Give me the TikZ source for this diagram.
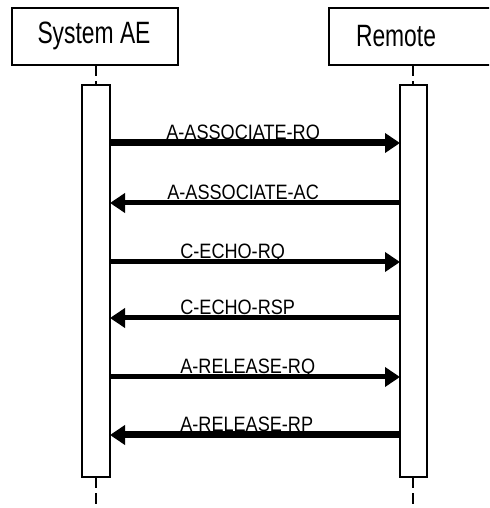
\documentclass[tikz,border=0pt]{standalone}
\usepackage{fontspec}
\setmainfont{Liberation Sans}
\usetikzlibrary{arrows.meta, calc, positioning}

\tikzset{
  lifebox/.style={draw, line width=1pt},
  lifeline/.style={line width=1.6pt, dash pattern=on 0.22cm off 0.1cm},
  headtext/.style={font=\fontsize{13}{15}\selectfont, yscale=1.35, inner sep=0pt},
  msgtext/.style={font=\fontsize{10.3}{12}\selectfont, yscale=1.15, inner sep=0pt, anchor=base west},
  msg/.style={-{Triangle[length=0.3cm,width=0.38cm]}, line width=0.1cm},
  bigmsg/.style={msg, line width=0.14cm}
}

\begin{document}
\begin{tikzpicture}[line cap=butt, line join=miter]
    \useasboundingbox (0,0) rectangle (9.78,10.16);
    \clip (0,0) rectangle (9.78,10.16);

    % heads of the two lifelines
    \draw [lifebox] (0.24,10.0) rectangle (3.56,8.86);
    \draw [lifebox] (6.58,10.0) rectangle (10.2,8.86);
    \node [headtext] (sys) at (1.88,9.44) {System AE};
    \node [headtext] (rem) at (7.92,9.44) {Remote};

    % activation bars
    \coordinate (L1) at (1.64,8.46);
    \coordinate (L2) at (2.2,0.62);
    \coordinate (R1) at (8.0,8.46);
    \coordinate (R2) at (8.54,0.62);
    \draw [lifebox] (L1) rectangle (L2);
    \draw [lifebox] (R1) rectangle (R2);

    \draw [lifeline] (1.92,8.86) -- (1.92,8.46);
    \draw [lifeline] (8.26,8.86) -- (8.26,8.46);
    \draw [lifeline] (1.92,0.62) -- (1.92,0);
    \draw [lifeline] (8.26,0.62) -- (8.26,0);

    % message ends
    \coordinate (a1) at (2.2,7.3);    \coordinate (b1) at (8.0,7.3);
    \coordinate (a2) at (2.2,6.1);    \coordinate (b2) at (8.0,6.1);
    \coordinate (a3) at (2.2,4.92);   \coordinate (b3) at (8.0,4.92);
    \coordinate (a4) at (2.2,3.8);    \coordinate (b4) at (8.0,3.8);
    \coordinate (a5) at (2.2,2.62);   \coordinate (b5) at (8.0,2.62);
    \coordinate (a6) at (2.2,1.46);   \coordinate (b6) at (8.0,1.46);

    \draw [bigmsg] (a1) -- (b1);
    \draw [msg] (b2) -- (a2);
    \draw [msg] (a3) -- (b3);
    \draw [msg] (b4) -- (a4);
    \draw [msg] (a5) -- (b5);
    \draw [bigmsg] (b6) -- (a6);

    \node [msgtext] (m1) at ($(a1)+(1.12,0.06)$) {A-ASSOCIATE-RQ};
    \node [msgtext] (m2) at ($(a2)+(1.14,0.06)$) {A-ASSOCIATE-AC};
    \node [msgtext] (m3) at ($(a3)+(1.4,0.06)$) {C-ECHO-RQ};
    \node [msgtext] (m4) at ($(a4)+(1.4,0.06)$) {C-ECHO-RSP};
    \node [msgtext] (m5) at ($(a5)+(1.4,0.06)$) {A-RELEASE-RQ};
    \node [msgtext] (m6) at ($(a6)+(1.4,0.06)$) {A-RELEASE-RP};
\end{tikzpicture}
\end{document}
